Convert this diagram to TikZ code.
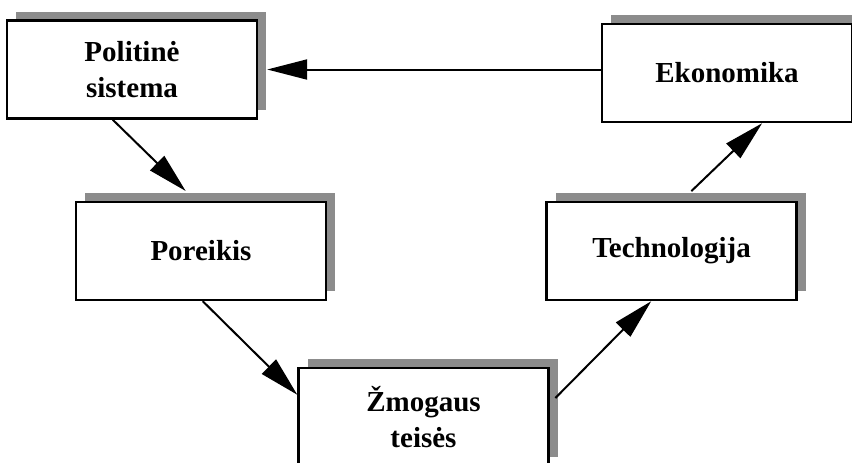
\documentclass[tikz,border=0pt]{standalone}
\usepackage{fontspec}
\setmainfont{Liberation Serif}
\usetikzlibrary{arrows.meta,shadows}

\tikzset{
  blok/.style={draw, line width=1.2pt, fill=white, minimum width=125pt, minimum height=49pt,
    inner sep=0pt, align=center, font=\fontsize{14.5}{18}\selectfont\bfseries,
    drop shadow={shadow xshift=4.5pt, shadow yshift=4.5pt, fill=black!45, opacity=1}},
  rodykle/.style={line width=1pt, -{Triangle[length=20pt,width=10pt]}}
}

\begin{document}
\begin{tikzpicture}[x=0.5pt, y=-0.5pt]
          \useasboundingbox (0,0) rectangle (852,462);
          \clip (0,0) rectangle (852,462);
          %
          \node[blok] (politine) at (132, 69.5) {Politinė \\ sistema};
          \node[blok] (ekonomika) at (727, 73) {Ekonomika};
          \node[blok] (poreikis) at (201, 251) {Poreikis};
          \node[blok] (technologija) at (671.5, 251) {Technologija};
          \node[blok] (zmogaus) at (423.5, 417) {Žmogaus \\ teisės};
          %
          \draw[rodykle, shorten >=4.5pt] (politine.east -| ekonomika.west) -- (politine.east);
          \draw[rodykle, shorten >=7pt] (politine.-111) -- (poreikis.96);
          \draw[rodykle] (poreikis.-88) -- (zmogaus.170);
          \draw[rodykle, shorten <=4pt] (zmogaus.6) -- (technologija.-112);
          \draw[rodykle, shorten <=7pt] (technologija.79) -- (ekonomika.-55);
        \end{tikzpicture}
\end{document}
